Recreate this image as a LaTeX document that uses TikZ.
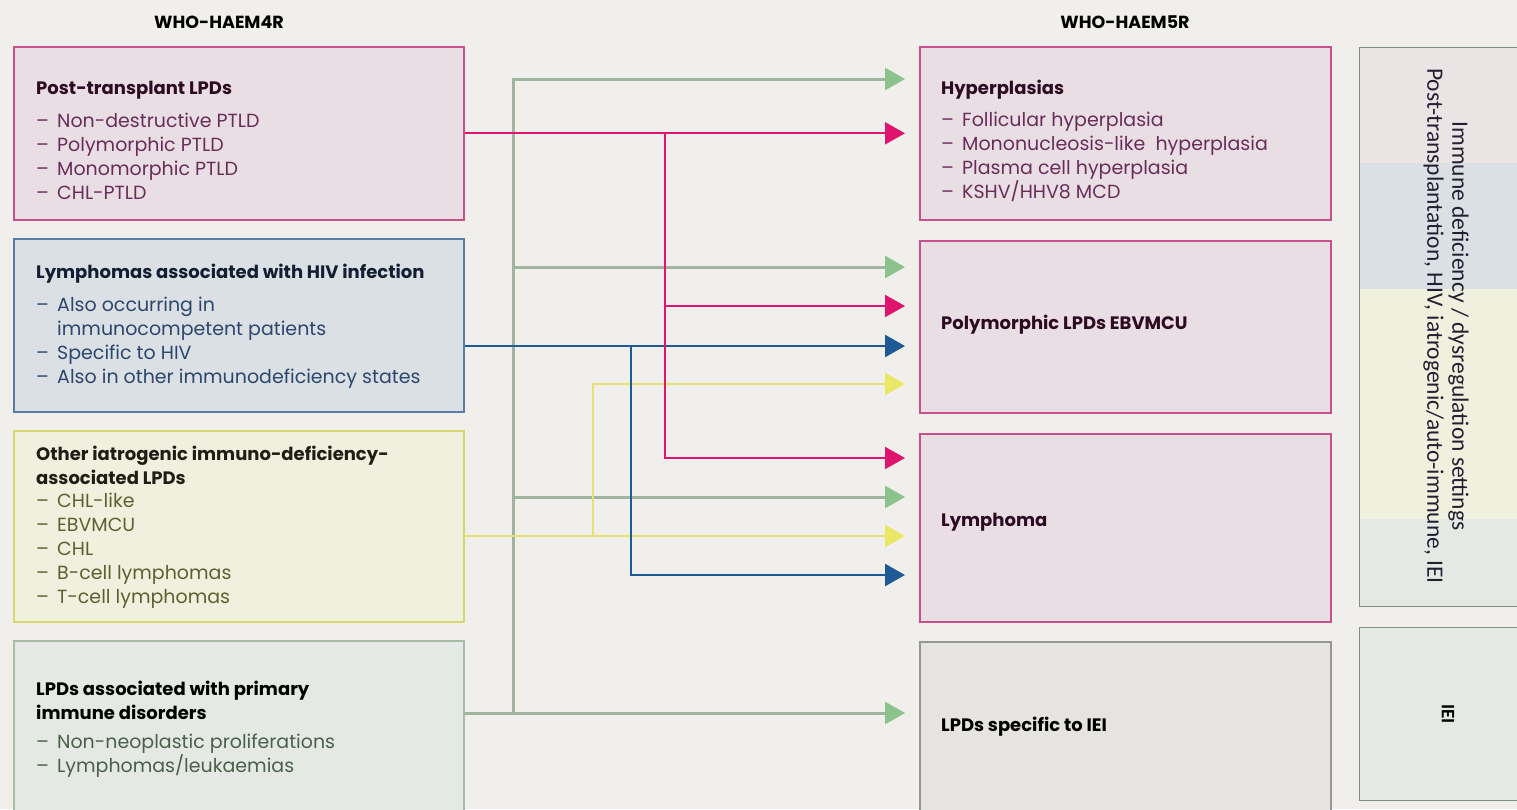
\documentclass[tikz,border=0pt]{standalone}
\usepackage{fontspec}
\setmainfont{Poppins}
\newfontfamily\sidefont{Carlito}
\usetikzlibrary{arrows.meta,calc}

% palette
\definecolor{bgc}{RGB}{240,239,235}
\definecolor{pkfill}{RGB}{233,222,228}
\definecolor{pkedge}{RGB}{200,80,140}
\definecolor{pktitle}{RGB}{45,12,35}
\definecolor{pktext}{RGB}{105,45,90}
\definecolor{blfill}{RGB}{218,224,228}
\definecolor{bledge}{RGB}{85,125,165}
\definecolor{bltitle}{RGB}{20,30,50}
\definecolor{bltext}{RGB}{45,70,110}
\definecolor{yefill}{RGB}{240,240,222}
\definecolor{yeedge}{RGB}{215,215,110}
\definecolor{yetitle}{RGB}{30,30,20}
\definecolor{yetext}{RGB}{95,95,50}
\definecolor{grfill}{RGB}{228,234,227}
\definecolor{gredge}{RGB}{165,190,165}
\definecolor{grtext}{RGB}{75,95,75}
\definecolor{gyfill}{RGB}{229,228,225}
\definecolor{gyedge}{RGB}{150,150,150}
\definecolor{sidepk}{RGB}{236,228,228}
\definecolor{sideedge}{RGB}{125,145,125}
\definecolor{sidetext}{RGB}{35,30,50}
% connector colours
\definecolor{cgreen}{RGB}{160,180,160}
\definecolor{cgreenhead}{RGB}{140,195,140}
\definecolor{cpink}{RGB}{222,20,110}
\definecolor{cblue}{RGB}{30,90,150}
\definecolor{cyellow}{RGB}{225,228,115}
\definecolor{cyellowhead}{RGB}{232,232,100}

\tikzset{
  box/.style={draw, line width=1.6pt, anchor=north west, inner sep=0pt},
  hd/.style={font=\fontsize{17.5}{20}\selectfont\bfseries, anchor=base, inner sep=0pt},
  ttl/.style={font=\fontsize{18}{22}\selectfont\bfseries, anchor=base west, inner sep=0pt},
  itm/.style={font=\fontsize{19}{22}\selectfont, anchor=base west, inner sep=0pt},
  gline/.style={draw=cgreen, line width=3pt, shorten >=14pt,
    -{Triangle[length=20pt,width=22pt,fill=cgreenhead,color=cgreenhead]}},
  pline/.style={draw=cpink, line width=2.2pt, shorten >=14pt,
    -{Triangle[length=20pt,width=22pt,color=cpink]}},
  bline/.style={draw=cblue, line width=2.6pt, shorten >=14pt,
    -{Triangle[length=20pt,width=22pt,color=cblue]}},
  yline/.style={draw=cyellow, line width=2.4pt, shorten >=14pt,
    -{Triangle[length=20pt,width=22pt,fill=cyellowhead,color=cyellowhead]}},
}
\newcommand\dsh{\makebox[21pt][l]{–}}

\begin{document}
\begin{tikzpicture}[x=1pt,y=-1pt]
\useasboundingbox (0,0) rectangle (1517,809);
\fill[bgc] (0,0) rectangle (1517,809);

% column headings
\node[hd] (h4) at (219,28) {WHO-HAEM4R};
\node[hd] (h5) at (1125,28) {WHO-HAEM5R};

% ---------- left column ----------
\node[box, fill=pkfill, draw=pkedge, minimum width=450pt, minimum height=173pt] (lb1) at (13,46) {};
\node[ttl, text=pktitle] (lb1t) at (36,94) {Post-transplant LPDs};
\node[itm, text=pktext] (lb1a) at (36,127) {\dsh Non-destructive PTLD};
\node[itm, text=pktext] (lb1b) at (36,151) {\dsh Polymorphic PTLD};
\node[itm, text=pktext] (lb1c) at (36,175) {\dsh Monomorphic PTLD};
\node[itm, text=pktext] (lb1d) at (36,199) {\dsh CHL-PTLD};

\node[box, fill=blfill, draw=bledge, minimum width=450pt, minimum height=173pt] (lb2) at (13,238) {};
\node[ttl, text=bltitle] (lb2t) at (36,278) {Lymphomas associated with HIV infection};
\node[itm, text=bltext] (lb2a) at (36,311) {\dsh Also occurring in};
\node[itm, text=bltext] (lb2b) at (36,335) {\hspace*{21pt}immunocompetent patients};
\node[itm, text=bltext] (lb2c) at (36,359) {\dsh Specific to HIV};
\node[itm, text=bltext] (lb2d) at (36,383) {\dsh Also in other immunodeficiency states};

\node[box, fill=yefill, draw=yeedge, minimum width=450pt, minimum height=191pt] (lb3) at (13,430) {};
\node[ttl, text=yetitle] (lb3t) at (36,460) {Other iatrogenic immuno-deficiency-};
\node[ttl, text=yetitle] (lb3u) at (36,484) {associated LPDs};
\node[itm, text=yetext] (lb3a) at (36,507) {\dsh CHL-like};
\node[itm, text=yetext] (lb3b) at (36,531) {\dsh EBVMCU};
\node[itm, text=yetext] (lb3c) at (36,555) {\dsh CHL};
\node[itm, text=yetext] (lb3d) at (36,579) {\dsh B-cell lymphomas};
\node[itm, text=yetext] (lb3e) at (36,603) {\dsh T-cell lymphomas};

\node[box, fill=grfill, draw=gredge, minimum width=450pt, minimum height=190pt] (lb4) at (13,640) {};
\node[ttl, text=black] (lb4t) at (36,695) {LPDs associated with primary};
\node[ttl, text=black] (lb4u) at (36,719) {immune disorders};
\node[itm, text=grtext] (lb4a) at (36,748) {\dsh Non-neoplastic proliferations};
\node[itm, text=grtext] (lb4b) at (36,772) {\dsh Lymphomas/leukaemias};

% ---------- right column ----------
\node[box, fill=pkfill, draw=pkedge, minimum width=411pt, minimum height=173pt] (rb1) at (919,46) {};
\node[ttl, text=pktitle] (rb1t) at (941,94) {Hyperplasias};
\node[itm, text=pktext] (rb1a) at (941,126) {\dsh Follicular hyperplasia};
\node[itm, text=pktext] (rb1b) at (941,150) {\dsh Mononucleosis-like\ \ hyperplasia};
\node[itm, text=pktext] (rb1c) at (941,174) {\dsh Plasma cell hyperplasia};
\node[itm, text=pktext] (rb1d) at (941,198) {\dsh KSHV/HHV8 MCD};

\node[box, fill=pkfill, draw=pkedge, minimum width=411pt, minimum height=172pt] (rb2) at (919,240) {};
\node[ttl, text=pktitle] (rb2t) at (941,329) {Polymorphic LPDs EBVMCU};

\node[box, fill=pkfill, draw=pkedge, minimum width=411pt, minimum height=188pt] (rb3) at (919,433) {};
\node[ttl, text=pktitle] (rb3t) at (941,526) {Lymphoma};

\node[box, fill=gyfill, draw=gyedge, minimum width=411pt, minimum height=190pt] (rb4) at (919,641) {};
\node[ttl, text=black] (rb4t) at (941,731) {LPDs specific to IEI};

% ---------- settings band ----------
\fill[sidepk] (1359,47) rectangle (1530,163);
\fill[blfill] (1359,163) rectangle (1530,289);
\fill[yefill] (1359,289) rectangle (1530,519);
\fill[grfill] (1359,519) rectangle (1530,606);
\node[box, draw=sideedge, line width=1.2pt, minimum width=171pt, minimum height=559pt] (sb1) at (1359,47) {};
\node[rotate=-90, align=center, text=sidetext, inner sep=0pt,
      font=\sidefont\fontsize{23.5}{25}\selectfont] (sb1t) at (1446,326)
  {Immune deficiency / dysregulation settings\\Post-transplantation, HIV, iatrogenic/auto-immune, IEI};

\node[box, fill=grfill, draw=sideedge, line width=1.2pt, minimum width=171pt, minimum height=173pt] (sb2) at (1359,627) {};
\node[rotate=-90, text=black, inner sep=0pt, font=\sidefont\bfseries\fontsize{19}{22}\selectfont] (sb2t) at (1448,714) {IEI};

% ---------- connectors ----------
\coordinate (gj) at (513,713);
\coordinate (yj) at (593,536);
\coordinate (bj) at (631,346);
\coordinate (pj) at (665,132.5);

% green: primary immune disorders
\draw[gline] (lb4.east |- gj) -- (rb4.west |- gj);
\draw[gline] (gj) |- (rb1.west |- 0,79);
\draw[gline] (gj |- 0,267) -- (rb2.west |- 0,267);
\draw[gline] (gj |- 0,497) -- (rb3.west |- 0,497);

% yellow: iatrogenic
\draw[yline] (lb3.east |- yj) -- (rb3.west |- yj);
\draw[yline] (yj) |- (rb2.west |- 0,384);

% blue: HIV
\draw[bline] (lb2.east |- bj) -- (rb2.west |- bj);
\draw[bline] (bj) |- (rb3.west |- 0,575);

% pink: post-transplant
\draw[pline] (lb1.east) -- (rb1.west |- lb1.east);
\draw[pline] (pj) |- (rb2.west |- 0,306);
\draw[pline] (pj) |- (rb3.west |- 0,458);
\end{tikzpicture}
\end{document}
